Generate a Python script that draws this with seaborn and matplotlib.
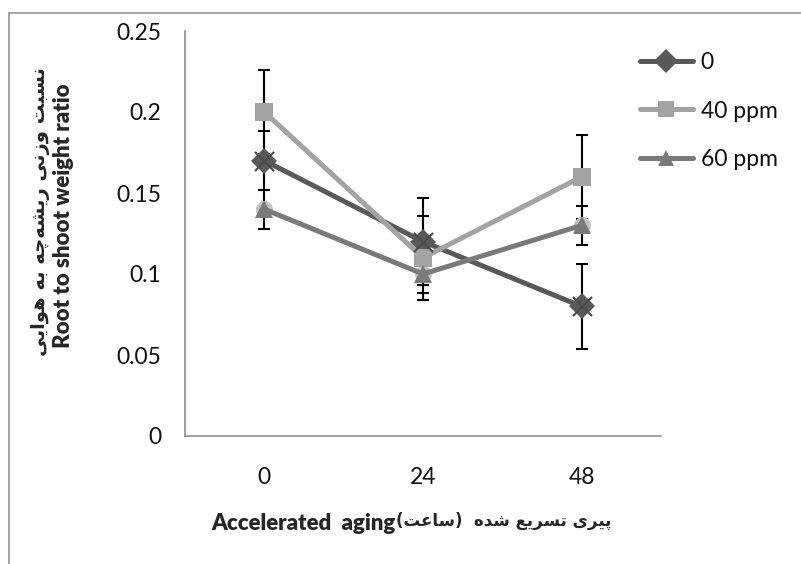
import numpy as np
import pandas as pd
import matplotlib
matplotlib.use("Agg")
import matplotlib.pyplot as plt
from matplotlib.lines import Line2D
import seaborn as sns

# chart data
aging = ["0", "24", "48"]
treatments = ["0", "40 ppm", "60 ppm"]
ratio_0 = [0.17, 0.12, 0.08]
ratio_40 = [0.20, 0.11, 0.16]
ratio_60 = [0.14, 0.10, 0.13]
err_0 = [0.018, 0.027, 0.026]
err_40 = [0.026, 0.026, 0.026]
err_60 = [0.012, 0.012, 0.012]
yticks = [0, 0.05, 0.1, 0.15, 0.2, 0.25]
ytick_labels = ["0", "0.05", "0.1", "0.15", "0.2", "0.25"]

ylabel_fa = "نسبت وزنی ریشه\u200cچه به هوایی"
ylabel_en = "Root to shoot weight ratio"
xlabel_en = "Accelerated  aging"
xlabel_fa = "پیری تسریع شده  (ساعت)"

colors = {"0": "#595959", "40 ppm": "#a3a3a3", "60 ppm": "#7a7a7a"}
markers = {"0": "D", "40 ppm": "s", "60 ppm": "^"}

# matplotlib has no arabic shaping, so pick presentation forms by hand
FORMS = {
    "\u0627": ("\uFE8D", "\uFE8E", None, None),
    "\u0628": ("\uFE8F", "\uFE90", "\uFE91", "\uFE92"),
    "\u067E": ("\uFB56", "\uFB57", "\uFB58", "\uFB59"),
    "\u062A": ("\uFE95", "\uFE96", "\uFE97", "\uFE98"),
    "\u0686": ("\uFB7A", "\uFB7B", "\uFB7C", "\uFB7D"),
    "\u062F": ("\uFEA9", "\uFEAA", None, None),
    "\u0631": ("\uFEAD", "\uFEAE", None, None),
    "\u0632": ("\uFEAF", "\uFEB0", None, None),
    "\u0633": ("\uFEB1", "\uFEB2", "\uFEB3", "\uFEB4"),
    "\u0634": ("\uFEB5", "\uFEB6", "\uFEB7", "\uFEB8"),
    "\u0639": ("\uFEC9", "\uFECA", "\uFECB", "\uFECC"),
    "\u0646": ("\uFEE5", "\uFEE6", "\uFEE7", "\uFEE8"),
    "\u0647": ("\uFEE9", "\uFEEA", "\uFEEB", "\uFEEC"),
    "\u0648": ("\uFEED", "\uFEEE", None, None),
    "\u06CC": ("\uFBFC", "\uFBFD", "\uFBFE", "\uFBFF"),
}


def shape_rtl(text):
    out = []
    for i, c in enumerate(text):
        if c == "\u200c":
            continue
        if c not in FORMS:
            out.append(c)
            continue
        prev = text[i - 1] if i > 0 else None
        nxt = text[i + 1] if i + 1 < len(text) else None
        iso, fin, ini, med = FORMS[c]
        jp = prev in FORMS and FORMS[prev][2] is not None
        jn = nxt in FORMS and ini is not None
        if jp and jn:
            out.append(med)
        elif jp:
            out.append(fin)
        elif jn:
            out.append(ini)
        else:
            out.append(iso)
    mirror = {"(": ")", ")": "("}
    return "".join(mirror.get(c, c) for c in reversed(out))


rows = []
for name, vals, errs in [("0", ratio_0, err_0), ("40 ppm", ratio_40, err_40), ("60 ppm", ratio_60, err_60)]:
    for pos, (v, e) in enumerate(zip(vals, errs)):
        rows.append({"treatment": name, "pos": pos, "aging": aging[pos], "ratio": v, "err": e})
df = pd.DataFrame(rows)

sns.set_style("white")
plt.rcParams["font.family"] = ["Lato", "DejaVu Sans"]

fig = plt.figure(figsize=(8.01, 5.64), dpi=100)
ax = fig.add_axes([185 / 801, 128 / 564, 476 / 801, 405 / 564])

for name in treatments:
    sub = df[df["treatment"] == name]
    ax.errorbar(sub["pos"], sub["ratio"], yerr=sub["err"], fmt="none", ecolor="black",
                elinewidth=1.5, capsize=4.5, capthick=1.5, zorder=1.5)

# faint circles behind the 60 ppm triangles
sns.scatterplot(data=df[df["treatment"] == "60 ppm"], x="pos", y="ratio", color="#c4c4c4",
                s=150, marker="o", linewidth=0, ax=ax, zorder=1.8, legend=False)

sns.lineplot(data=df, x="pos", y="ratio", hue="treatment", style="treatment",
             hue_order=treatments, style_order=treatments, palette=colors, markers=markers,
             dashes=False, linewidth=3.6, markersize=13, markeredgewidth=0, ax=ax,
             legend=False, zorder=2)

# x shaped marks on the 0 series
sns.scatterplot(data=df[df["treatment"] == "0"], x="pos", y="ratio", color="#4a4a4a",
                s=190, marker="x", linewidth=1.5, ax=ax, zorder=2.05, legend=False)

ax.set_xlim(-0.5, 2.5)
ax.set_ylim(0, 0.25)
ax.set_yticks(yticks, labels=ytick_labels)
ax.set_xticks([0, 1, 2], labels=aging)
ax.set_xticks([-0.5, 0.5, 1.5, 2.5], minor=True)
ax.tick_params(axis="x", which="major", length=0, pad=22, labelsize=16.5, labelcolor="#111111")
ax.tick_params(axis="x", which="minor", length=5, width=1.1, color="#868686", direction="out")
ax.tick_params(axis="y", length=5, width=1.1, color="#868686", direction="out", pad=12,
               labelsize=16.5, labelcolor="#111111")
ax.set_xlabel("")
ax.set_ylabel("")
for side in ["top", "right"]:
    ax.spines[side].set_visible(False)
for side in ["left", "bottom"]:
    ax.spines[side].set_color("#868686")
    ax.spines[side].set_linewidth(1.1)

handles = [Line2D([], [], color=colors[t], lw=3.6, marker=markers[t], markersize=12,
                  markeredgewidth=0) for t in treatments]
fig.legend(handles, treatments, loc="upper left", bbox_to_anchor=(640 / 801, 1 - 52 / 564),
           frameon=False, fontsize=16.5, handlelength=2.3, handletextpad=0.35,
           labelspacing=1.2, borderpad=0, borderaxespad=0, labelcolor="#111111")

fig.text(41 / 801, 1 - 212 / 564, shape_rtl(ylabel_fa), rotation=90, ha="center", va="center",
         fontsize=14, fontweight="bold", family=["DejaVu Sans"])
fig.text(64 / 801, 1 - 216 / 564, ylabel_en, rotation=90, ha="center", va="center",
         fontsize=16, fontweight=800)
fig.text(396 / 801, 1 - 524 / 564, xlabel_en, ha="right", va="center",
         fontsize=16, fontweight=800)
fig.text(396 / 801, 1 - 521 / 564, shape_rtl(xlabel_fa), ha="left", va="center",
         fontsize=12, fontweight="bold", family=["DejaVu Sans"])

# outer chart border
fig.add_artist(Line2D([9 / 801, 9 / 801], [0, 1 - 13 / 564], color="#8c8c8c", lw=1.1,
                      transform=fig.transFigure))
fig.add_artist(Line2D([9 / 801, 1], [1 - 13 / 564, 1 - 13 / 564], color="#8c8c8c", lw=1.1,
                      transform=fig.transFigure))

fig.savefig("out.png", dpi=100)
